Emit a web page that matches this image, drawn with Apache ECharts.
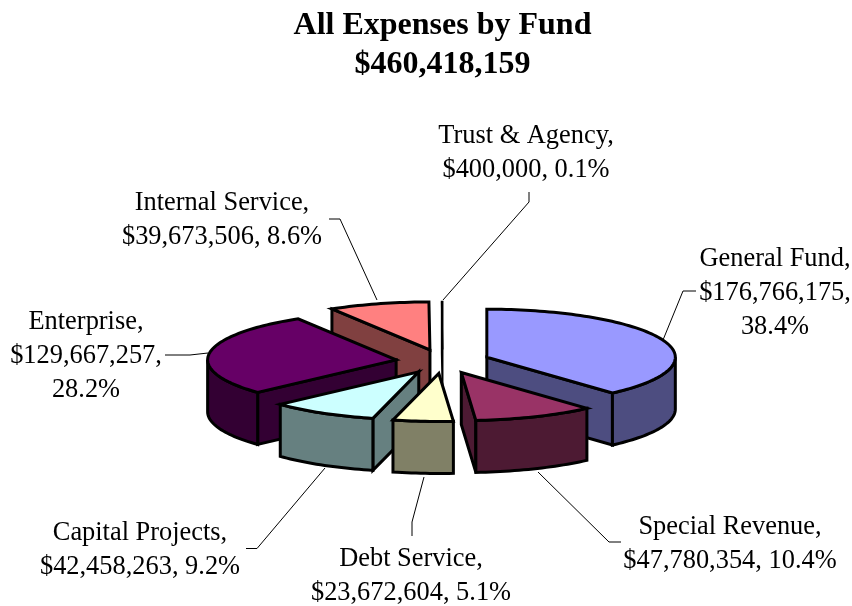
<!DOCTYPE html>
<html>
<head>
<meta charset="utf-8">
<style>html,body{margin:0;padding:0;background:#fff}#c{width:852px;height:606px}</style>
<script src="https://cdn.jsdelivr.net/npm/echarts@6/dist/echarts.min.js"></script>
</head>
<body>
<div id="c"></div>
<script>
var titleLines = ['All Expenses by Fund', '$460,418,159'];
var categories = ['General Fund', 'Special Revenue', 'Debt Service', 'Capital Projects', 'Enterprise', 'Internal Service', 'Trust & Agency'];
var amounts = [176766175, 47780354, 23672604, 42458263, 129667257, 39673506, 400000];
var topColors = ['#9999FF', '#993366', '#FFFFCC', '#CCFFFF', '#660066', '#FF8080', '#000000'];
var sideColors = ['#4D4D80', '#4D1A33', '#808066', '#668080', '#330033', '#804040', '#000000'];
var paintOrder = [6, 5, 0, 4, 3, 1, 2];

var PIE = { cx: 442.8, cy: 361.5, rx: 188.5, ry: 48, depth: 52, explode: 0.25, stroke: 3, thinStroke: 1.6 };
var FONT = 'Liberation Serif';
var LABEL_SIZE = 26.4, LABEL_LH = 34;
var labelLayout = [
  { x: 775, y: 259, breakAll: true, line: [[696,291],[683,291],[663,340]] },
  { x: 730, y: 527, line: [[621,542],[609,542],[538,472]] },
  { x: 411, y: 559, line: [[412,536],[412,522],[424,477]] },
  { x: 140, y: 533, line: [[246,548.5],[257,548.5],[325,468]] },
  { x: 86, y: 322, breakAll: true, line: [[165,355],[190,355],[208,353]] },
  { x: 222, y: 203, line: [[329,219],[340,219],[377,300]] },
  { x: 526, y: 136, line: [[529,192],[529,202],[443,300]] }
];

var total = amounts.reduce(function (a, b) { return a + b; }, 0);
var angles = [], cum = 0;
amounts.forEach(function (v) {
  var s = cum / total * 360;
  cum += v;
  angles.push([s, cum / total * 360]);
});
function money(v) { return '$' + v.toLocaleString('en-US'); }
function labelLines(i) {
  var pct = (amounts[i] / total * 100).toFixed(1) + '%';
  return labelLayout[i].breakAll
    ? [categories[i] + ',', money(amounts[i]) + ',', pct]
    : [categories[i] + ',', money(amounts[i]) + ', ' + pct];
}
function rad(d) { return d * Math.PI / 180; }
function rimPoint(o, deg, dy) {
  return [o[0] + PIE.rx * Math.sin(rad(deg)), o[1] - PIE.ry * Math.cos(rad(deg)) + (dy || 0)];
}
function arcPoints(o, a, b, dy) {
  var pts = [], n = Math.max(2, Math.ceil(Math.abs(b - a) / 1.5));
  for (var k = 0; k <= n; k++) pts.push(rimPoint(o, a + (b - a) * k / n, dy));
  return pts;
}
function face(points, fill, z, width) {
  return {
    type: 'polygon', z2: z, shape: { points: points },
    style: { fill: fill, stroke: '#000', lineWidth: width, lineJoin: 'miter', miterLimit: 6 }
  };
}
function renderItem(params, api) {
  var i = api.value(0), rank = paintOrder.indexOf(i), z = rank * 10 + 1;
  var a = angles[i][0], b = angles[i][1], mid = (a + b) / 2;
  var o = [
    PIE.cx + PIE.explode * PIE.rx * Math.sin(rad(mid)),
    PIE.cy - PIE.explode * PIE.ry * Math.cos(rad(mid))
  ];
  var d = PIE.depth, kids = [];
  var w = (b - a) < 1 ? PIE.thinStroke : PIE.stroke;
  function radial(deg) {
    var p = rimPoint(o, deg);
    kids.push(face([o, p, [p[0], p[1] + d], [o[0], o[1] + d]], sideColors[i], z, w));
  }
  if (a > 180 && a < 360) radial(a);
  if (b > 0 && b < 180) radial(b);
  var fa = Math.max(a, 90), fb = Math.min(b, 270);
  if (fa < fb) {
    kids.push(face(arcPoints(o, fa, fb, 0).concat(arcPoints(o, fb, fa, d)), sideColors[i], z + 1, w));
  }
  kids.push(face([o].concat(arcPoints(o, a, b, 0)), topColors[i], z + 2, w));

  var lay = labelLayout[i];
  kids.push({
    type: 'polyline', z2: 200, shape: { points: lay.line },
    style: { fill: null, stroke: '#000', lineWidth: 1 }
  });
  labelLines(i).forEach(function (t, k) {
    kids.push({
      type: 'text', z2: 201,
      style: { x: lay.x, y: lay.y + k * LABEL_LH, text: t, fill: '#000',
        font: LABEL_SIZE + 'px "' + FONT + '"', align: 'center', verticalAlign: 'middle' }
    });
  });
  return { type: 'group', children: kids };
}

var chart = echarts.init(document.getElementById('c'), null, { renderer: 'canvas' });
chart.setOption({
  animation: false,
  backgroundColor: '#fff',
  title: {
    text: titleLines.join('\n'), left: 437.5, top: 1, textAlign: 'center',
    textStyle: { fontFamily: FONT, fontWeight: 'bold', fontSize: 32, lineHeight: 39, color: '#000' }
  },
  series: [{
    type: 'custom', coordinateSystem: 'none', silent: true,
    data: categories.map(function (c, i) { return [i]; }),
    renderItem: renderItem
  }]
});
</script>
</body>
</html>
